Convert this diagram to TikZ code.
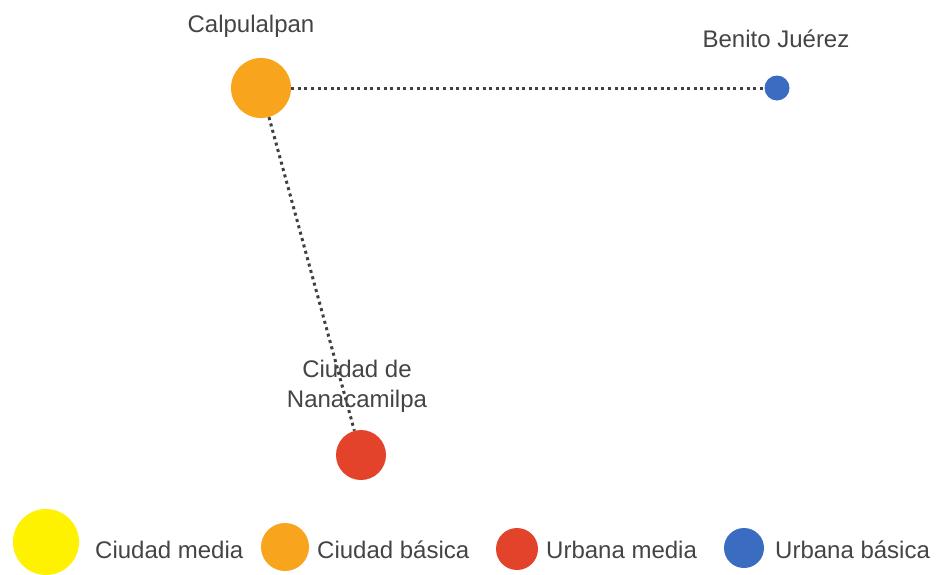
\documentclass[tikz,border=0pt]{standalone}
\usepackage{fontspec}
\setmainfont{Liberation Sans}
\definecolor{cmedia}{HTML}{FFF200}
\definecolor{cbasica}{HTML}{F8A51D}
\definecolor{umedia}{HTML}{E3432A}
\definecolor{ubasica}{HTML}{3A6CC2}
\definecolor{txt}{HTML}{444444}
\tikzset{
    site/.style={circle, inner sep=0pt, fill=#1},
    lab/.style={text=txt, font=\fontsize{24}{30}\selectfont, inner sep=0pt},
    link/.style={draw=black!75, line width=3pt, dash pattern=on 3pt off 3.6pt}
}
\begin{document}
\begin{tikzpicture}[x=1pt,y=-1pt]
        \useasboundingbox (0,0) rectangle (940,574);
        % localidades
        \node[site=cbasica, minimum size=60pt] (cal) at (261,88) {};
        \node[site=ubasica, minimum size=25pt] (ben) at (777,88) {};
        \node[site=umedia, minimum size=50pt] (nan) at (361,455) {};
        \draw[link] (cal) -- (ben);
        \draw[link] (cal) -- (nan);
        \node[lab, anchor=base] (calLab) at (251,32) {Calpulalpan};
        \node[lab, anchor=base] (benLab) at (776,47) {Benito Juérez};
        \node[lab, anchor=base, align=center] (nanLab) at (357,407) {Ciudad de\\Nanacamilpa};
        % leyenda
        \foreach \x/\y/\d/\c/\tx/\t in {46/542/66/cmedia/95/Ciudad media,
                285/547/48/cbasica/317/Ciudad básica,
                517/549/42/umedia/546/Urbana media,
                744/548/40/ubasica/775/Urbana básica}
            \node[site=\c, minimum size=\d pt] (key\c) at (\x,\y) {}
                (\tx,558) node[lab, anchor=base west] (keyLab\c) {\t};
\end{tikzpicture}
\end{document}
